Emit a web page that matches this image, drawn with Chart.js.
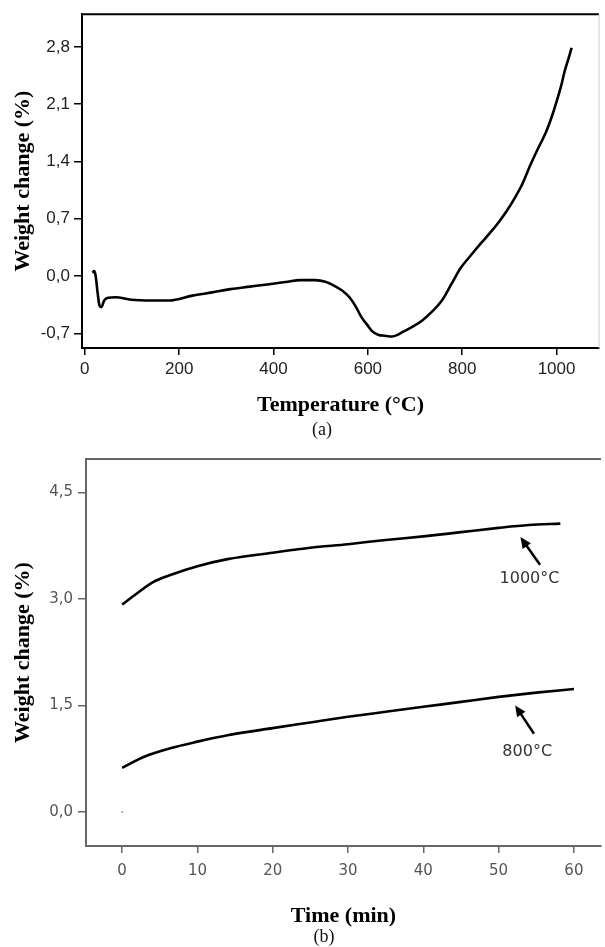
<!DOCTYPE html>
<html>
<head>
<meta charset="utf-8">
<script src="https://cdn.jsdelivr.net/npm/chart.js@4.4.1/dist/chart.umd.min.js"></script>
<style>
  body { margin: 0; background: #fff; }
  #wrap { position: relative; width: 605px; height: 947px; }
  canvas { position: absolute; left: 0; }
</style>
</head>
<body>
<div id="wrap">
  <canvas id="heatChart" width="605" height="445" style="top:0"></canvas>
  <canvas id="isoChart" width="605" height="502" style="top:445px"></canvas>
</div>
<script>
// (a) weight change while heating
const tempC = [16, 20, 23, 27, 31, 35, 41, 49, 65, 98, 140, 179, 228, 270, 309, 350, 391, 430, 456, 488, 510, 529, 546, 561, 575, 586, 599, 610, 623, 635, 651, 663, 675, 695, 716, 737, 757, 777, 797, 818, 838, 858, 879, 895, 911, 928, 944, 960, 977, 990, 1001, 1010, 1017, 1025, 1032];
const weightA = [0.04, 0.06, 0.0, -0.2, -0.36, -0.38, -0.3, -0.265, -0.26, -0.29, -0.3, -0.3, -0.24, -0.2, -0.16, -0.13, -0.1, -0.07, -0.05, -0.05, -0.07, -0.12, -0.18, -0.26, -0.38, -0.5, -0.6, -0.68, -0.72, -0.73, -0.74, -0.72, -0.68, -0.62, -0.54, -0.43, -0.3, -0.1, 0.1, 0.25, 0.39, 0.52, 0.67, 0.8, 0.95, 1.13, 1.35, 1.55, 1.75, 1.95, 2.15, 2.33, 2.5, 2.65, 2.79];
const tempTicks = [0, 200, 400, 600, 800, 1000];
const weightTicksA = [-0.7, 0, 0.7, 1.4, 2.1, 2.8];

// (b) isothermal weight change
const time1000 = [0, 1.5, 4, 6.5, 10, 14, 20, 25, 30, 35, 40, 45, 50, 54, 58.2];
const weight1000 = [2.92, 3.04, 3.23, 3.34, 3.46, 3.56, 3.65, 3.72, 3.77, 3.83, 3.88, 3.94, 4.0, 4.04, 4.06];
const time800 = [0, 3, 6.5, 10, 14, 20, 25, 30, 35, 40, 45, 50, 55, 60];
const weight800 = [0.62, 0.78, 0.9, 0.99, 1.08, 1.18, 1.26, 1.34, 1.41, 1.48, 1.55, 1.62, 1.68, 1.73];
const dotTime = [0];
const dotWeight = [0];
const timeTicks = [0, 10, 20, 30, 40, 50, 60];
const weightTicksB = [0, 1.5, 3.0, 4.5];

// arrow annotations (data units): label, label point, arrow tail, arrow head
const notes = [
  { text: '1000°C', lx: 54.1, ly: 3.28, tx: 55.5, ty: 3.48, hx: 52.9, hy: 3.87 },
  { text: '800°C', lx: 53.8, ly: 0.85, tx: 54.7, ty: 1.1, hx: 52.2, hy: 1.5 }
];

const toPoints = (xs, ys) => xs.map((x, i) => ({ x: x, y: ys[i] }));
const comma = v => v.toFixed(1).replace('.', ',');

function frame(color, width, sides) {
  return {
    id: 'frame',
    afterDraw(chart) {
      const { ctx, chartArea: a } = chart;
      ctx.save();
      ctx.strokeStyle = color;
      ctx.lineWidth = width;
      ctx.beginPath();
      ctx.moveTo(a.left, a.top);
      ctx.lineTo(a.right, a.top);
      ctx.stroke();
      if (sides.right) {
        ctx.strokeStyle = sides.right;
        ctx.lineWidth = 1;
        ctx.beginPath();
        ctx.moveTo(a.right, a.top);
        ctx.lineTo(a.right, a.bottom);
        ctx.stroke();
      }
      ctx.restore();
    }
  };
}

function caption(text, x, y) {
  return {
    id: 'caption',
    afterDraw(chart) {
      const ctx = chart.ctx;
      ctx.save();
      ctx.font = '18px "Liberation Serif"';
      ctx.fillStyle = '#111';
      ctx.textAlign = 'center';
      ctx.textBaseline = 'middle';
      ctx.fillText(text, x, y);
      ctx.restore();
    }
  };
}

const arrows = {
  id: 'arrows',
  afterDatasetsDraw(chart) {
    const { ctx, scales: { x, y } } = chart;
    ctx.save();
    notes.forEach(n => {
      const tx = x.getPixelForValue(n.tx), ty = y.getPixelForValue(n.ty);
      const hx = x.getPixelForValue(n.hx), hy = y.getPixelForValue(n.hy);
      const ang = Math.atan2(hy - ty, hx - tx);
      ctx.strokeStyle = '#000';
      ctx.fillStyle = '#000';
      ctx.lineWidth = 2.5;
      ctx.beginPath();
      ctx.moveTo(tx, ty);
      ctx.lineTo(hx - 6 * Math.cos(ang), hy - 6 * Math.sin(ang));
      ctx.stroke();
      ctx.beginPath();
      ctx.moveTo(hx, hy);
      ctx.lineTo(hx - 11 * Math.cos(ang) + 5 * Math.sin(ang), hy - 11 * Math.sin(ang) - 5 * Math.cos(ang));
      ctx.lineTo(hx - 11 * Math.cos(ang) - 5 * Math.sin(ang), hy - 11 * Math.sin(ang) + 5 * Math.cos(ang));
      ctx.closePath();
      ctx.fill();
      ctx.font = '16px "DejaVu Sans"';
      ctx.fillStyle = '#333';
      ctx.textAlign = 'center';
      ctx.textBaseline = 'middle';
      ctx.fillText(n.text, x.getPixelForValue(n.lx), y.getPixelForValue(n.ly));
    });
    ctx.restore();
  }
};

const titleFont = { family: 'Liberation Serif', size: 22, weight: 'bold' };
const tickFontA = { family: 'Liberation Sans Narrow, Liberation Sans', size: 17 };

// panel (a)
new Chart(document.getElementById('heatChart').getContext('2d'), {
  type: 'scatter',
  data: {
    datasets: [{
      data: toPoints(tempC, weightA),
      showLine: true,
      borderColor: '#000',
      borderWidth: 2.6,
      pointRadius: 0,
      cubicInterpolationMode: 'monotone'
    }]
  },
  options: {
    responsive: false,
    animation: false,
    layout: { padding: { top: 9, right: 6, bottom: 0, left: 0 } },
    plugins: { legend: { display: false }, tooltip: { enabled: false } },
    scales: {
      x: {
        min: -6, max: 1090,
        afterBuildTicks: s => { s.ticks = tempTicks.map(v => ({ value: v })); },
        afterFit: s => { s.height = 97; },
        grid: { drawOnChartArea: false, tickLength: 7, color: '#000', lineWidth: 1.5 },
        border: { color: '#000', width: 2 },
        ticks: { padding: 4, color: '#222', maxRotation: 0, callback: v => String(v), font: tickFontA },
        title: { display: true, text: 'Temperature (°C)', color: '#000', font: titleFont, padding: { top: 0, bottom: 26 } }
      },
      y: {
        min: -0.88, max: 3.2,
        afterBuildTicks: s => { s.ticks = weightTicksA.map(v => ({ value: v })); },
        afterFit: s => { s.width = 82; },
        grid: { drawOnChartArea: false, tickLength: 8, color: '#000', lineWidth: 1.5 },
        border: { color: '#000', width: 2 },
        ticks: { padding: 4, color: '#222', callback: v => comma(v), font: tickFontA },
        title: { display: true, text: 'Weight change (%)', color: '#000', font: titleFont, padding: { top: 10, bottom: 0 } }
      }
    }
  },
  plugins: [frame('#000', 2, { right: '#ccc' }), caption('(a)', 322, 430)]
});

// panel (b)
new Chart(document.getElementById('isoChart').getContext('2d'), {
  type: 'scatter',
  data: {
    datasets: [{
      data: toPoints(time1000, weight1000),
      showLine: true, borderColor: '#000', borderWidth: 2.6, pointRadius: 0,
      cubicInterpolationMode: 'monotone'
    }, {
      data: toPoints(time800, weight800),
      showLine: true, borderColor: '#000', borderWidth: 2.6, pointRadius: 0,
      cubicInterpolationMode: 'monotone'
    }, {
      data: toPoints(dotTime, dotWeight),
      pointRadius: 1, backgroundColor: '#999', borderWidth: 0
    }]
  },
  options: {
    responsive: false,
    animation: false,
    layout: { padding: { top: 12, right: 1, bottom: 0, left: 0 } },
    plugins: { legend: { display: false }, tooltip: { enabled: false } },
    scales: {
      x: {
        min: -4.8, max: 63.6,
        afterBuildTicks: s => { s.ticks = timeTicks.map(v => ({ value: v })); },
        afterFit: s => { s.height = 101; },
        grid: { drawOnChartArea: false, tickLength: 7, color: '#666', lineWidth: 1.5 },
        border: { color: '#666', width: 2 },
        ticks: { padding: 9, color: '#555', maxRotation: 0, font: { family: 'DejaVu Sans', size: 15 } },
        title: { display: true, text: 'Time (min)', color: '#000', font: titleFont, padding: { top: 0, bottom: 17 } }
      },
      y: {
        min: -0.48, max: 4.97,
        afterBuildTicks: s => { s.ticks = weightTicksB.map(v => ({ value: v })); },
        afterFit: s => { s.width = 86; },
        grid: { drawOnChartArea: false, tickLength: 8, color: '#666', lineWidth: 1.5 },
        border: { color: '#666', width: 2 },
        ticks: { padding: 5, color: '#555', callback: v => comma(v), font: { family: 'DejaVu Sans', size: 15 } },
        title: { display: true, text: 'Weight change (%)', color: '#000', font: titleFont, padding: { top: 10, bottom: 0 } }
      }
    }
  },
  plugins: [frame('#666', 2, {}), arrows, caption('(b)', 324, 492)]
});
</script>
</body>
</html>
